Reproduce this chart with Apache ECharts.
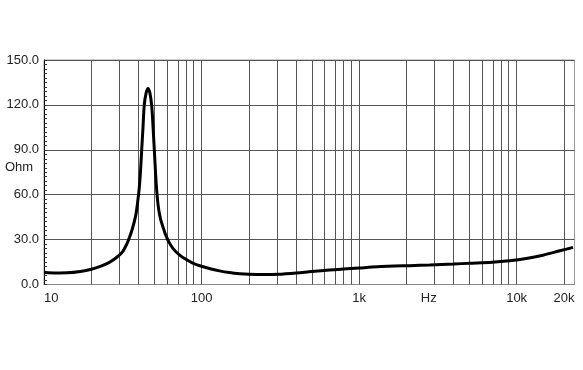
<!DOCTYPE html>
<html><head><meta charset="utf-8">
<script src="https://cdn.jsdelivr.net/npm/echarts@6/dist/echarts.min.js"></script>
<style>html,body{margin:0;padding:0;background:#fff}#c{width:583px;height:370px}</style>
</head><body><div id="c"></div>
<script>
// Impedance curve (frequency in Hz, impedance in Ohm)
const freqHz = [10,12,14,17,20,23,26,29,31.5,33.7,34.6,36.2,38.2,39.2,40.2,41,41.7,42.5,43.3,44.5,45.7,47,48.3,49.3,50.2,51.1,52,53,54.2,55.5,57.5,59,62,66,72,79,88,100,115,130,150,175,200,250,306,400,500,600,700,1000,1300,2100,2800,4000,5000,7000,9000,11500,14700,18800,22800];
const impedanceOhm = [8.0,7.7,7.8,8.7,10.2,12.3,14.8,18.2,21.8,27.5,30.5,36.4,46,54,64,76,90,105,120,128,131,128,119,104,89,74,62,53,46.5,42,37,33.5,28.5,24,20,17,14.3,12.2,10.4,9.1,8,7.2,6.8,6.6,6.8,7.7,8.7,9.4,9.9,11,11.8,12.6,13,13.7,14.2,14.9,15.9,17.4,19.6,22.5,24.8];

const xTickFreqs = [10,100,1000,2770,10000,20000];
const xTickLabels = ['10','100','1k','Hz','10k','20k'];
const gridFreqs = [20,30,40,50,60,70,80,90,100,200,300,400,500,600,700,800,900,1000,2000,3000,4000,5000,6000,7000,8000,9000,10000,20000];
const xMinHz = 10, xMaxHz = 23300;
const yMin = 0, yMax = 150, yStep = 30;

const lg = Math.log10;
const chart = echarts.init(document.getElementById('c'), null, {renderer: 'canvas'});
const font = 'Liberation Sans, Arial, sans-serif';

chart.setOption({
  animation: false,
  backgroundColor: '#fff',
  grid: {left: 44, right: 8.5, top: 60, bottom: 85.5, show: true, borderColor: '#999', borderWidth: 1, containLabel: false, outerBoundsMode: 'none'},
  xAxis: {
    type: 'value', min: lg(xMinHz), max: lg(xMaxHz),
    axisLine: {show: true, lineStyle: {color: '#888', width: 1}},
    axisTick: {show: false},
    splitLine: {show: false},
    axisLabel: {
      customValues: xTickFreqs.map(lg),
      alignMinLabel: 'left',
      margin: 7, fontSize: 13, fontFamily: font, color: '#222',
      formatter: function (v) {
        for (let i = 0; i < xTickFreqs.length; i++) if (Math.abs(lg(xTickFreqs[i]) - v) < 1e-6) return xTickLabels[i];
        return '';
      }
    }
  },
  yAxis: {
    type: 'value', min: yMin, max: yMax, interval: yStep,
    axisLine: {show: true, lineStyle: {color: '#000', width: 1}},
    axisTick: {show: true, inside: true, length: 3, lineStyle: {color: '#333'}},
    minorTick: {show: true, splitNumber: 10, length: 3, lineStyle: {color: '#333'}},
    splitLine: {show: true, lineStyle: {color: '#555', width: 1}},
    axisLabel: {margin: 5, fontSize: 13, fontFamily: font, color: '#222', formatter: v => v.toFixed(1)}
  },
  graphic: [{type: 'text', left: 5, top: 161, style: {text: 'Ohm', font: '13px ' + font, fill: '#222'}}],
  series: [
    {
      type: 'line', data: [], z: 1, silent: true,
      markLine: {
        silent: true, symbol: ['none', 'none'], label: {show: false},
        lineStyle: {color: '#555', width: 1, type: 'solid'},
        emphasis: {disabled: true},
        data: gridFreqs.map(f => ({xAxis: lg(f)}))
      }
    },
    {
      type: 'line', z: 5,
      data: freqHz.map((f, i) => [lg(f), impedanceOhm[i]]),
      showSymbol: false, smooth: 0.3,
      lineStyle: {color: '#000', width: 3}
    }
  ]
});
</script></body></html>
